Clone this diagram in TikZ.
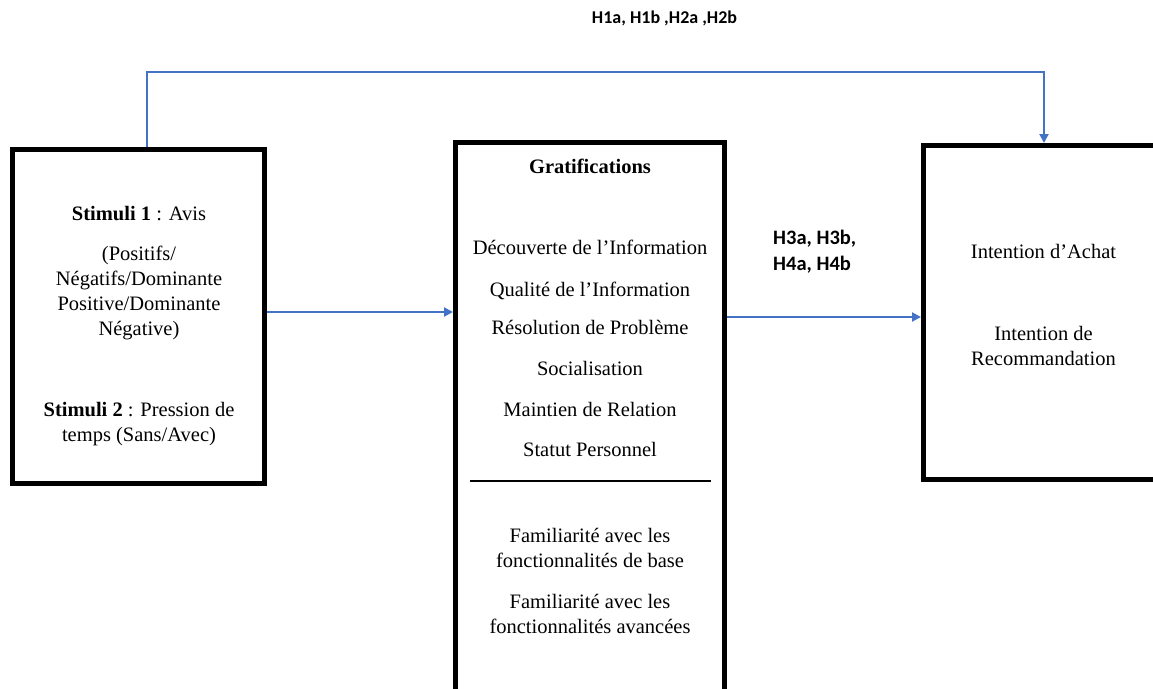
\documentclass[tikz,border=0pt]{standalone}
\usepackage{fontspec}
\setmainfont{Liberation Serif}
\newfontfamily\hypfont{Carlito}
\usepackage{xcolor}
\usetikzlibrary{arrows.meta, positioning}
\definecolor{linkblue}{RGB}{68,114,196}

\begin{document}
\begin{tikzpicture}[x=1pt, y=-1pt,
    box/.style={draw, line width=5pt, inner sep=0pt},
    txt/.style={font=\fontsize{20.5}{25}\selectfont, align=center, inner sep=0pt},
    item/.style={txt, text height=14pt, text depth=5pt},
    hyp/.style={font=\hypfont\bfseries\fontsize{18}{26}\selectfont, align=left, inner sep=0pt},
    link/.style={draw=linkblue, line width=2pt, -{Triangle[length=9pt, width=9pt]}}]
    \useasboundingbox (0,0) rectangle (1153,688);

    \node[box, minimum width=252pt, minimum height=334pt] (stim) at (138.5, 316.5) {};
    \node[box, minimum width=269pt, minimum height=577.5pt] (grat) at (590, 431.25) {};
    \node[box, minimum width=251.5pt, minimum height=334pt] (intent) at (1049.25, 312.5) {};

    \node[txt] (s1) at (139, 214) {\textbf{Stimuli 1} : Avis};
    \node[txt] (s1val) at (139, 293) {(Positifs/\\Négatifs/Dominante\\Positive/Dominante\\Négative)};
    \node[txt] (s2) at (139, 424) {\textbf{Stimuli 2} : Pression de\\temps (Sans/Avec)};

    \node[item] (gtitle) at (590, 169) {\textbf{Gratifications}};
    \node[item] (g1) at (590, 250) {Découverte de l’Information};
    \node[item] (g2) at (590, 292) {Qualité de l’Information};
    \node[item] (g3) at (590, 330) {Résolution de Problème};
    \node[item] (g4) at (590, 371) {Socialisation};
    \node[item] (g5) at (590, 412) {Maintien de Relation};
    \node[item] (g6) at (590, 452) {Statut Personnel};
    \draw[line width=1.2pt] (470, 481) -- (711, 481);
    \node[txt] (f1) at (590, 548) {Familiarité avec les\\fonctionnalités de base};
    \node[txt] (f2) at (590, 614) {Familiarité avec les\\fonctionnalités avancées};

    \node[item] (i1) at (1043.5, 254) {Intention d’Achat};
    \node[txt] (i2) at (1043.5, 345.5) {Intention de\\Recommandation};

    \node[hyp] (h12) at (664.5, 18) {H1a, H1b ,H2a ,H2b};
    \node[hyp, font=\hypfont\bfseries\fontsize{20.5}{26}\selectfont, anchor=west] (h34) at (773, 252) {H3a, H3b,\\H4a, H4b};

    \coordinate (turn) at (1044, 72);
    \draw[link] ([xshift=8.5pt]stim.north) |- (turn) -- (intent.north -| turn);
    \draw[link] (stim.east |- 0, 312) -- (grat.west |- 0, 312);
    \draw[link] (grat.east |- 0, 317) -- (intent.west |- 0, 317);
\end{tikzpicture}
\end{document}
